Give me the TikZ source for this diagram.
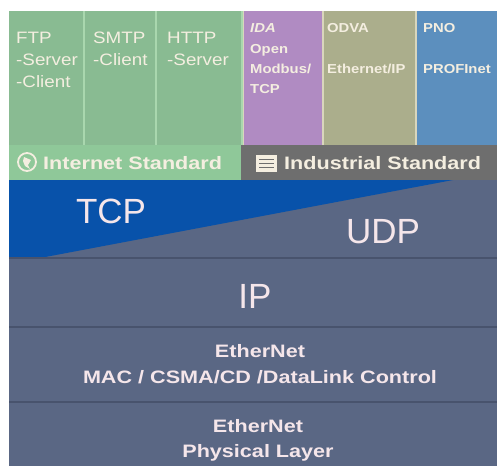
\documentclass[tikz,border=0pt]{standalone}
\usepackage{fontspec}
\setmainfont{Liberation Sans}
\newfontfamily\colfont[FakeStretch=1.14]{Liberation Sans}
\newfontfamily\bandfont[FakeStretch=1.2]{Liberation Sans}
\definecolor{colgreen}{HTML}{89BB92}
\definecolor{sepgreen}{HTML}{A9D7AE}
\definecolor{sepcream}{HTML}{D9D6BC}
\definecolor{colpurple}{HTML}{B08BC2}
\definecolor{cololive}{HTML}{ABAE8C}
\definecolor{colblue}{HTML}{5C8FBE}
\definecolor{bandgreen}{HTML}{8FC899}
\definecolor{bandgray}{HTML}{6E6E6E}
\definecolor{tcpblue}{HTML}{0852AA}
\definecolor{slate}{HTML}{5A6784}
\definecolor{slateline}{HTML}{48536D}
\definecolor{cream}{HTML}{F4EEE0}
\definecolor{pinkwhite}{HTML}{F5E6EA}
\usetikzlibrary{calc}

\begin{document}
\begin{tikzpicture}[x=1pt,y=-1pt,
  coltext/.style={anchor=base west,inner sep=0pt,text=cream,font=\colfont\fontsize{16.5}{18}\selectfont},
  orgtext/.style={anchor=base west,inner sep=0pt,text=cream,font=\colfont\bfseries\fontsize{13}{15}\selectfont},
  bandtext/.style={anchor=base west,inner sep=0pt,text=cream,font=\bandfont\bfseries\fontsize{18}{20}\selectfont},
  bigtext/.style={anchor=base,inner sep=0pt,text=pinkwhite,font=\fontsize{35}{40}\selectfont},
  layertext/.style={anchor=base,inner sep=0pt,text=pinkwhite,font=\bandfont\bfseries\fontsize{18}{20}\selectfont}]
\useasboundingbox[fill=white] (0,0) rectangle (497,466);
% top columns
\fill[sepgreen] (9,11) rectangle (243,145);
\fill[sepcream] (243,11) rectangle (497,145);
\fill[colgreen] (9,11) rectangle (83,145);
\fill[colgreen] (85,11) rectangle (155,145);
\fill[colgreen] (157,11) rectangle (241,145);
\fill[colpurple] (244,11) rectangle (322,145);
\fill[cololive] (324,11) rectangle (415,145);
\fill[colblue] (417,11) rectangle (497,145);
% bands
\fill[bandgreen] (9,145) rectangle (241,180);
\fill[bandgray] (241,145) rectangle (497,180);
% layers
\fill[slate] (9,180) rectangle (497,466);
\fill[tcpblue] (9,180) -- (453,180) -- (40,258) -- (9,258) -- cycle;
\foreach \y in {258,327,402}
\draw[slateline,line width=1.2pt] (9,\y) -- (497,\y);
% column texts
\foreach \t [count=\i] in {FTP,-Server,-Client}
\node[coltext] (ftp\i) at (16,21+22*\i) {\t};
\foreach \t [count=\i] in {SMTP,-Client}
\node[coltext] (smtp\i) at (93,21+22*\i) {\t};
\foreach \t [count=\i] in {HTTP,-Server}
\node[coltext] (http\i) at (167,21+22*\i) {\t};
\node[orgtext] (ida0) at (250,32) {\itshape IDA};
\foreach \t [count=\i] in {Open,Modbus/,TCP}
\node[orgtext] (ida\i) at (250,33+20*\i) {\t};
\node[orgtext] (odva) at (327,32) {ODVA};
\node[orgtext] (enip) at (327,73) {Ethernet/IP};
\node[orgtext] (pno) at (423,32) {PNO};
\node[orgtext] (pnet) at (423,73) {PROFInet};
% band texts and icons
\draw[cream,line width=1.8pt] (27,162) circle (9);
\fill[cream] (24,157) -- (31,160) -- (28,165) -- (30,169) -- (25,166) -- (23,161) -- cycle;
\node[bandtext] (inet) at (43,169) {Internet Standard};
\fill[cream] (256,155) rectangle (277,172);
\foreach \y in {159,163,167}
\draw[bandgray,line width=1pt] (259,\y) -- (274,\y);
\node[bandtext] (indu) at (284,169) {Industrial Standard};
% layer texts
\node[bigtext] (tcp) at (111,223) {TCP};
\node[bigtext] (udp) at (383,243) {UDP};
\node[bigtext] (ip) at (255,308) {IP};
\node[layertext] (mac1) at (260,357) {EtherNet};
\node[layertext] (mac2) at (260,383) {MAC / CSMA/CD /DataLink Control};
\node[layertext] (phy1) at (258,432) {EtherNet};
\node[layertext] (phy2) at (258,457) {Physical Layer};
\end{tikzpicture}
\end{document}
